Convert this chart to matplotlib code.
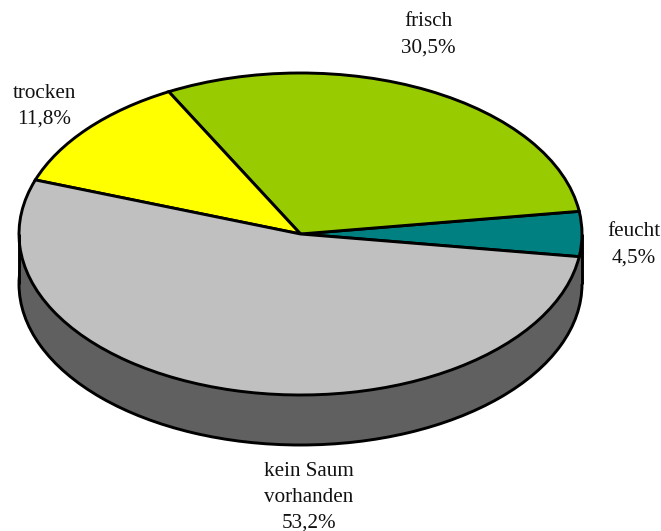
import matplotlib
matplotlib.use("Agg")
import matplotlib.pyplot as plt

categories = ["feucht", "frisch", "trocken", "kein Saum\nvorhanden"]
values = [4.5, 30.5, 11.8, 53.2]
value_labels = ["4,5%", "30,5%", "11,8%", "53,2%"]
colors = ["#008080", "#99cc00", "#ffff00", "#c0c0c0"]
side_color = "#606060"

W, H = 661, 531
cx, cy, rx, ry, depth = 300.5, 234, 281.5, 161, 50
label_pos = [(634, 245), (428, 35), (44, 106), (309, 497)]

plt.rcParams["font.family"] = ["Liberation Serif"]
fig = plt.figure(figsize=(W / 100, H / 100), dpi=100)
ax = fig.add_axes([0, 0, 1, 1])

edge = {"edgecolor": "black", "linewidth": 2.1}

# bottom of the disc, then the band joining it to the top
ax.pie([1], colors=[side_color], center=(0, -depth / ry), radius=1, wedgeprops=edge)
ax.add_patch(plt.Rectangle((-1, -depth / ry), 2, depth / ry, facecolor=side_color, edgecolor="none"))
ax.plot([-1, -1], [0, -depth / ry], color="black", lw=2.1, solid_capstyle="butt")
ax.plot([1, 1], [0, -depth / ry], color="black", lw=2.1, solid_capstyle="butt")

# top of the disc
ax.pie(values, colors=colors, startangle=-8.1, radius=1, wedgeprops=edge)

ax.set_aspect("auto")
ax.set_xlim(-cx / rx, (W - cx) / rx)
ax.set_ylim(-(H - cy) / ry, cy / ry)
ax.axis("off")

for cat, lab, (px, py) in zip(categories, value_labels, label_pos):
    fig.text(px / W, 1 - py / H, cat + "\n" + lab, ha="center", va="center",
             fontsize=15.2, linespacing=1.5, color="#111111")

fig.savefig("out.png", dpi=100)
